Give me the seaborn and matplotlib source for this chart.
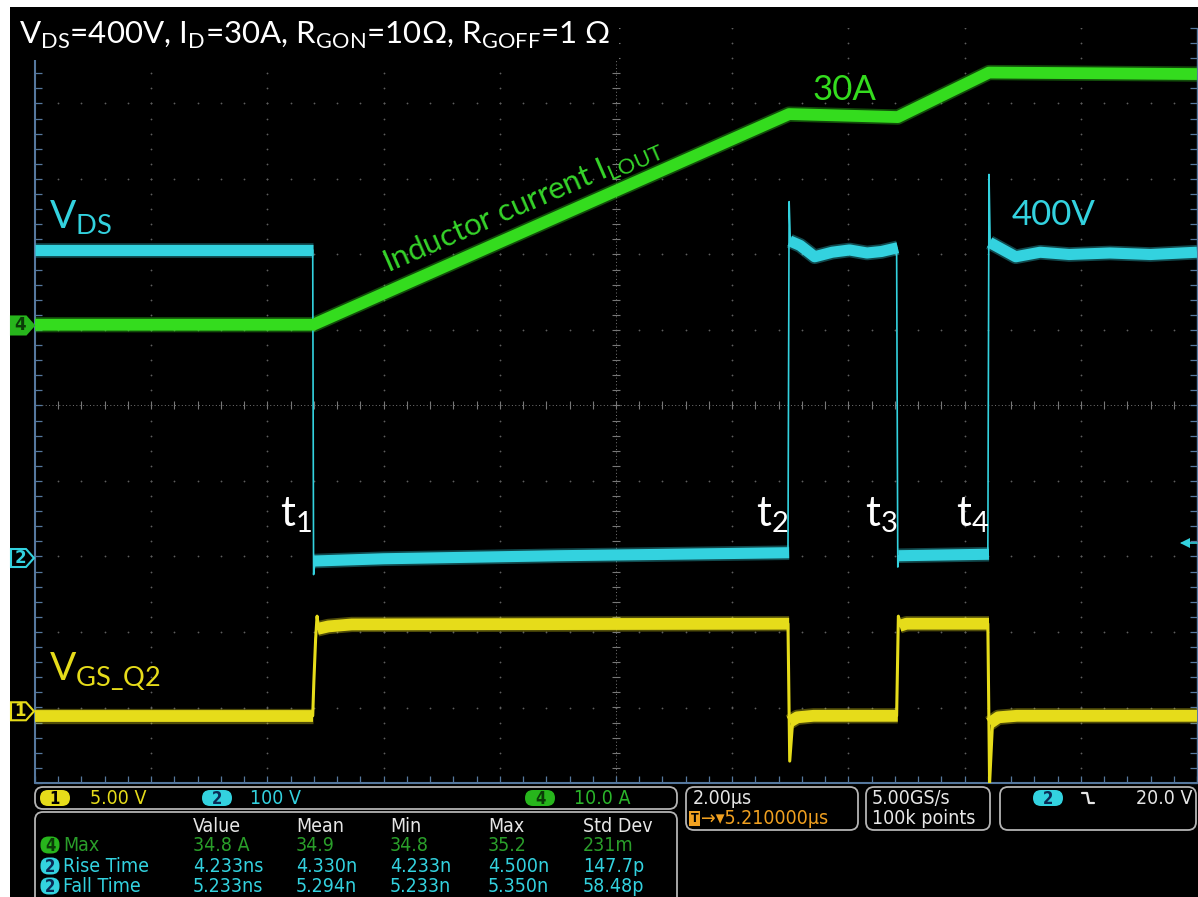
import numpy as np
import pandas as pd
import matplotlib
matplotlib.use("Agg")
import matplotlib.pyplot as plt
import matplotlib.transforms as mtransforms
from matplotlib.patches import FancyBboxPatch, Polygon, Rectangle
from matplotlib.lines import Line2D
import seaborn as sns

# ---------------- data ----------------
# horizontal: 2 µs/div, 10 divisions ; vertical: 10 divisions
t_edges = [4.79, 12.98, 14.85, 16.42]          # t1..t4 in µs
t_names = ["1", "2", "3", "4"]

# channel 4 : inductor current (A), 10 A/div
il_t = [0.0, 4.79, 12.98, 14.85, 16.42, 20.0]
il_v = [0.1, 0.1, 28.0, 27.6, 33.5, 33.3]

# channel 2 : V_DS (V), 100 V/div  (steady parts, segment ids)
vds_seg = [0, 0, 1, 1, 1, 1, 2, 2, 2, 2, 2, 2, 2, 2, 3, 3, 4, 4, 4, 4, 4, 4, 4, 4]
vds_t = [0.0, 4.79,
         4.80, 6.0, 9.0, 12.98,
         12.99, 13.17, 13.42, 13.72, 14.02, 14.32, 14.57, 14.85,
         14.86, 16.42,
         16.43, 16.62, 16.88, 17.3, 17.8, 18.5, 19.2, 20.0]
vds_v = [408, 408,
         -4, -1, 3, 7,
         420, 414, 399, 405, 408, 404, 406, 411,
         3, 5,
         418, 410, 399, 405, 402, 404, 402, 405]
# V_DS switching edges (thin lines incl. overshoot spikes)
vds_edge_seg = [0, 0, 0, 1, 1, 1, 2, 2, 2, 3, 3, 3]
vds_edge_t = [4.78, 4.795, 4.82, 12.96, 12.98, 13.0, 14.83, 14.85, 14.87, 16.40, 16.42, 16.44]
vds_edge_v = [408, -22, -4, 7, 472, 420, 411, -12, 3, 5, 508, 418]

# channel 1 : V_GS_Q2 (V), 5 V/div
vgs_seg = [0, 0, 1, 1, 1, 1, 2, 2, 2, 2, 3, 3, 3, 4, 4, 4, 4]
vgs_t = [0.0, 4.79,
         4.86, 5.05, 5.45, 12.98,
         12.99, 13.12, 13.4, 14.85,
         14.88, 15.0, 16.42,
         16.43, 16.58, 16.9, 20.0]
vgs_v = [-0.3, -0.3,
         5.45, 5.62, 5.75, 5.8,
         -0.7, -0.4, -0.3, -0.3,
         5.65, 5.8, 5.8,
         -0.8, -0.4, -0.3, -0.3]
vgs_edge_seg = [0, 0, 0, 0, 0, 1, 1, 1, 2, 2, 2, 3, 3, 3]
vgs_edge_t = [4.78, 4.80, 4.83, 4.855, 4.88, 12.96, 12.99, 13.04, 14.83, 14.86, 14.90, 16.40, 16.43, 16.48]
vgs_edge_v = [-0.3, 2.0, 4.8, 6.3, 5.5, 5.8, -3.3, -0.7, -0.3, 6.3, 5.65, 5.8, -4.8, -0.8]

# channel settings: volts(amps)/div and ground-marker offset (div)
ch_scale = {"1": 5.0, "2": 100.0, "4": 10.0}
ch_offset = {"1": -4.05, "2": -2.02, "4": 1.06}
ch_unit_label = {"1": "5.00 V", "2": "100 V", "4": "10.0 A"}
trigger_level = 20.0   # V on ch2

meas_cols = ["Value", "Mean", "Min", "Max", "Std Dev"]
meas_names = ["Max", "Rise Time", "Fall Time"]
meas_ch = ["4", "2", "2"]
meas_vals = [["34.8 A", "34.9", "34.8", "35.2", "231m"],
             ["4.233ns", "4.330n", "4.233n", "4.500n", "147.7p"],
             ["5.233ns", "5.294n", "5.233n", "5.350n", "58.48p"]]
timebase = "2.00µs"
trig_pos = "5.210000µs"
sample_rate = "5.00GS/s"
record_len = "100k points"
trig_text = "20.0 V"

# ---------------- style ----------------
W, H = 1198, 897
GREEN = "#34dc1e"
CYAN = "#33d2df"
YELLOW = "#e6dc1a"
GRID = "#5e5e5e"
BORDER = "#56789e"
ORANGE = "#f0a020"
FS = 14  # status-bar font size

sns.set_theme(style="dark", rc={"axes.facecolor": "black", "figure.facecolor": "white"})
plt.rcParams["font.family"] = ["Lato", "DejaVu Sans"]

fig = plt.figure(figsize=(W / 100, H / 100), dpi=100)
fig.patch.set_facecolor("white")
fig.add_artist(Rectangle((10 / W, 0), 1 - 10 / W, 1 - 7 / H, transform=fig.transFigure,
                         facecolor="black", edgecolor="none", zorder=-10))

def fx(x):
    return x / W

def fy(y):
    return 1 - y / H

L, R, T, B = 35, 1197, 28, 783
ax = fig.add_axes([fx(L), fy(B), (R - L) / W, (B - T) / H])
ax.set_facecolor("black")
for s in ax.spines.values():
    s.set_visible(False)

# ---------------- graticule ----------------
xmin, xmax = 0, 20
ymin, ymax = -5, 5
y_minor = np.arange(ymin, ymax + 1e-9, 0.2)
x_minor = np.arange(xmin, xmax + 1e-9, 0.4)
for xm in np.arange(2, 20, 2):
    if xm == 10:
        continue
    ax.plot(np.full(len(y_minor), xm), y_minor, ls="none", marker="o", ms=1.3, mew=0, color=GRID, zorder=1)
for ym in range(-4, 5):
    if ym == 0:
        continue
    ax.plot(x_minor, np.full(len(x_minor), ym), ls="none", marker="o", ms=1.3, mew=0, color=GRID, zorder=1)
# center cross
ax.axhline(0, color="#777777", lw=0.7, ls=(0, (1, 2.5)), zorder=1)
ax.axvline(10, color="#777777", lw=0.7, ls=(0, (1, 2.5)), zorder=1)
ax.plot(x_minor, np.zeros(len(x_minor)), ls="none", marker="|", ms=6, mew=0.8, color="#777777", zorder=1)
ax.plot(np.full(len(y_minor), 10), y_minor, ls="none", marker="_", ms=6, mew=0.8, color="#777777", zorder=1)
# border
ax.axvline(0, color=BORDER, lw=1.5, clip_on=False, zorder=2)
ax.axvline(20, color=BORDER, lw=1.0, clip_on=False, zorder=2)
ax.axhline(-5, color=BORDER, lw=1.5, clip_on=False, zorder=2)
ax.plot(np.zeros(len(y_minor)), y_minor, ls="none", marker=1, ms=5, mew=0.9, color=BORDER, clip_on=False, zorder=2)
ax.plot(np.full(len(y_minor), 20), y_minor, ls="none", marker=0, ms=5, mew=0.9, color=BORDER, clip_on=False, zorder=2)
ax.plot(x_minor, np.full(len(x_minor), -5), ls="none", marker=2, ms=5, mew=0.9, color=BORDER, clip_on=False, zorder=2)

# ---------------- traces ----------------
def to_div(values, ch):
    return np.asarray(values, dtype=float) / ch_scale[ch] + ch_offset[ch]

def band(t, v, seg, ch, color, glow=10.5, core=8):
    df = pd.DataFrame({"t": t, "d": to_div(v, ch), "seg": seg})
    sns.lineplot(data=df, x="t", y="d", units="seg", estimator=None, sort=False,
                 color=color, lw=glow, alpha=0.35, solid_capstyle="butt", ax=ax, legend=False, zorder=4)
    sns.lineplot(data=df, x="t", y="d", units="seg", estimator=None, sort=False,
                 color=color, lw=core, alpha=1.0, solid_capstyle="butt", ax=ax, legend=False, zorder=5)

def edges(t, v, seg, ch, color, lw=1.3):
    df = pd.DataFrame({"t": t, "d": to_div(v, ch), "seg": seg})
    sns.lineplot(data=df, x="t", y="d", units="seg", estimator=None, sort=False,
                 color=color, lw=lw, ax=ax, legend=False, zorder=5)

band(vgs_t, vgs_v, vgs_seg, "1", YELLOW, glow=11, core=8.5)
edges(vgs_edge_t, vgs_edge_v, vgs_edge_seg, "1", YELLOW, lw=2.2)
band(vds_t, vds_v, vds_seg, "2", CYAN, glow=10.5, core=8)
edges(vds_edge_t, vds_edge_v, vds_edge_seg, "2", CYAN, lw=1.2)
band(il_t, il_v, [0] * len(il_t), "4", GREEN, glow=11, core=8.5)

ax.set_xlim(xmin, xmax)
ax.set_ylim(ymin, ymax)
ax.set_xlabel("")
ax.set_ylabel("")
ax.set_xticks([])
ax.set_yticks([])

# trigger level arrow (ch2)
trig_div = trigger_level / ch_scale["2"] + ch_offset["2"]
ax.plot([19.75, 20.0], [trig_div, trig_div], color=CYAN, lw=1.2, clip_on=False, zorder=6)
ax.plot([19.8], [trig_div], marker="<", ms=7, color=CYAN, mew=0, clip_on=False, zorder=6)

# channel ground markers at left
for ch, col in [("4", GREEN), ("2", CYAN), ("1", YELLOW)]:
    yd = ch_offset[ch]
    ypx = B - (yd - ymin) / (ymax - ymin) * (B - T)
    pts = [(11, ypx - 9), (26, ypx - 9), (34, ypx), (26, ypx + 9), (11, ypx + 9)]
    pts = [(fx(px), fy(py)) for px, py in pts]
    if ch == "4":
        fc, ec, tc = "#27b51c", "#27b51c", "#0b3b08"
    else:
        fc, ec, tc = "black", col, col
    fig.add_artist(Polygon(pts, closed=True, transform=fig.transFigure, facecolor=fc,
                           edgecolor=ec, lw=1.5, zorder=6))
    fig.text(fx(20), fy(ypx), ch, color=tc, fontsize=12, fontweight="bold",
             ha="center", va="center", family="DejaVu Sans", zorder=7)

# ---------------- annotations ----------------
fig.text(fx(19), fy(44),
         r"V$_\mathregular{DS}$=400V, I$_\mathregular{D}$=30A, R$_\mathregular{GON}$=10Ω, R$_\mathregular{GOFF}$=1 Ω",
         color="white", fontsize=22.5, ha="left", va="baseline", zorder=8,
         bbox=dict(facecolor="black", edgecolor="none", pad=6))
fig.text(fx(49), fy(229), r"V$_\mathregular{DS}$", color=CYAN, fontsize=28, ha="left", va="baseline")
fig.text(fx(49), fy(681), r"V$_\mathregular{GS\_Q2}$", color=YELLOW, fontsize=28, ha="left", va="baseline")
fig.text(fx(388), fy(273), r"Inductor current I$_\mathregular{LOUT}$", color="#36d42a", fontsize=22.5,
         rotation=23.5, rotation_mode="anchor", ha="left", va="baseline")
fig.text(fx(813), fy(100), "30A", color=GREEN, fontsize=25, ha="left", va="baseline")
fig.text(fx(1012), fy(225), "400V", color=CYAN, fontsize=25, ha="left", va="baseline")
for te, nm in zip(t_edges, t_names):
    xpx = L + te / (xmax - xmin) * (R - L)
    fig.text(fx(xpx - 33), fy(526), r"t$_\mathregular{%s}$" % nm, color="white", fontsize=30,
             ha="left", va="baseline")

# ---------------- status bar ----------------
ID = mtransforms.IdentityTransform()
SF = dict(family="DejaVu Sans", fontstretch="condensed", zorder=9)

def rbox(x0, y0, x1, y1, r=8, ec="#b4b4b4"):
    fig.add_artist(FancyBboxPatch((x0, H - y1), x1 - x0, y1 - y0,
                                  boxstyle="round,pad=0,rounding_size=%d" % r,
                                  transform=ID, facecolor="black", edgecolor=ec, lw=1.3, zorder=5))

def pill(xc, yc, txt, fc, tc, w=28, h=16):
    fig.add_artist(FancyBboxPatch((xc - w / 2, H - yc - h / 2), w, h,
                                  boxstyle="round,pad=0,rounding_size=%d" % (h // 2),
                                  transform=ID, facecolor=fc, edgecolor="none", zorder=6))
    fig.text(fx(xc), fy(yc + 0.5), txt, color=tc, fontsize=12, fontweight="bold", ha="center",
             va="center", **SF)

rbox(35, 787, 677, 809)
pill(55, 798, "1", YELLOW, "black", w=30)
fig.text(fx(90), fy(798), ch_unit_label["1"], color=YELLOW, fontsize=FS, va="center", **SF)
pill(217, 798, "2", CYAN, "#0a2a55", w=30)
fig.text(fx(250), fy(798), ch_unit_label["2"], color=CYAN, fontsize=FS, va="center", **SF)
pill(540, 798, "4", "#27b51c", "#0b3b08", w=30)
fig.text(fx(574), fy(798), ch_unit_label["4"], color="#2ab52a", fontsize=FS, va="center", **SF)

rbox(35, 812, 677, 910)
col_x = [193, 296, 390, 488, 583]
for cx, cn in zip(col_x, meas_cols):
    fig.text(fx(cx), fy(826), cn, color="#e6e6e6", fontsize=FS, va="center", **SF)
row_y = [845, 866, 886]
for ry, nm, chn, vals in zip(row_y, meas_names, meas_ch, meas_vals):
    col = "#2a9e2a" if chn == "4" else CYAN
    fc = "#27b51c" if chn == "4" else CYAN
    tc = "#0b3b08" if chn == "4" else "#0a2a55"
    pill(50, ry, chn, fc, tc, w=19, h=17)
    fig.text(fx(63), fy(ry), nm, color=col, fontsize=FS, va="center", **SF)
    for cx, v in zip(col_x, vals):
        fig.text(fx(cx), fy(ry), v, color=col, fontsize=FS, va="center", **SF)

rbox(686, 787, 858, 830)
fig.text(fx(693), fy(798), timebase, color="#e6e6e6", fontsize=FS, va="center", **SF)
fig.add_artist(Rectangle((689, H - 826), 11, 15, transform=ID, facecolor=ORANGE, edgecolor="none", zorder=6))
fig.text(fx(694.5), fy(818.5), "T", color="black", fontsize=9, fontweight="bold", ha="center", va="center", **SF)
fig.text(fx(701), fy(818), "→▾" + trig_pos, color=ORANGE, fontsize=FS, va="center", **SF)

rbox(866, 787, 990, 830)
fig.text(fx(872), fy(798), sample_rate, color="#e6e6e6", fontsize=FS, va="center", **SF)
fig.text(fx(872), fy(818), record_len, color="#e6e6e6", fontsize=FS, va="center", **SF)

rbox(1000, 787, 1196, 830)
pill(1048, 798, "2", CYAN, "#0a2a55", w=30)
fig.add_artist(Line2D([1082, 1087, 1089, 1094], [H - 793, H - 793, H - 803, H - 803],
                      transform=ID, color="#e6e6e6", lw=1.6, zorder=7))
fig.text(fx(1192), fy(798), trig_text, color="#e6e6e6", fontsize=FS, va="center", ha="right", **SF)

fig.savefig("out.png", dpi=100, facecolor=fig.get_facecolor())
